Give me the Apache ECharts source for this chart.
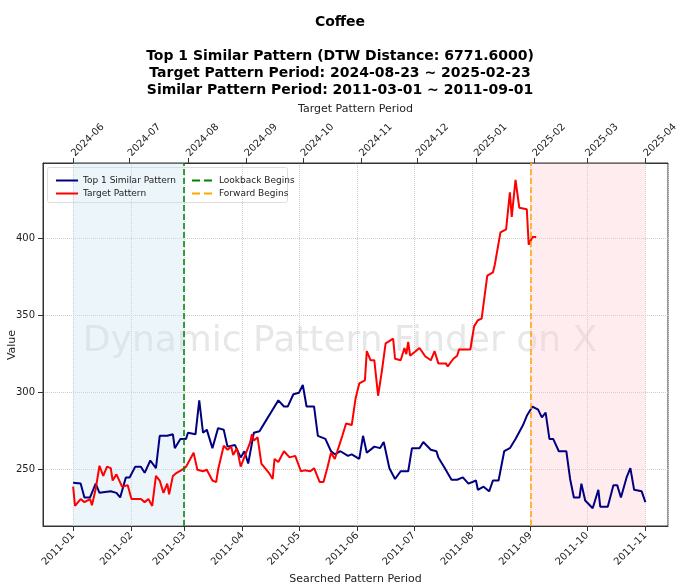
<!DOCTYPE html>
<html><head><meta charset="utf-8">
<script src="https://cdn.jsdelivr.net/npm/echarts@6/dist/echarts.min.js"></script>
<style>html,body{margin:0;padding:0;background:#fff}#c{width:680px;height:587px}</style>
</head><body><div id="c"></div>
<script>
const blueDates = ["2011-01-01","2011-01-05","2011-01-07","2011-01-10","2011-01-13","2011-01-15","2011-01-21","2011-01-24","2011-01-26","2011-01-29","2011-01-31","2011-02-03","2011-02-06","2011-02-08","2011-02-11","2011-02-14","2011-02-16","2011-02-20","2011-02-23","2011-02-24","2011-02-27","2011-03-02","2011-03-03","2011-03-07","2011-03-09","2011-03-11","2011-03-13","2011-03-16","2011-03-19","2011-03-22","2011-03-24","2011-03-28","2011-03-31","2011-04-02","2011-04-04","2011-04-07","2011-04-10","2011-04-14","2011-04-16","2011-04-20","2011-04-23","2011-04-25","2011-04-28","2011-05-01","2011-05-03","2011-05-05","2011-05-09","2011-05-11","2011-05-15","2011-05-18","2011-05-20","2011-05-23","2011-05-27","2011-05-29","2011-06-02","2011-06-04","2011-06-06","2011-06-10","2011-06-13","2011-06-15","2011-06-18","2011-06-21","2011-06-24","2011-06-28","2011-06-30","2011-07-04","2011-07-06","2011-07-10","2011-07-13","2011-07-14","2011-07-17","2011-07-21","2011-07-24","2011-07-27","2011-07-30","2011-08-03","2011-08-04","2011-08-07","2011-08-10","2011-08-12","2011-08-15","2011-08-18","2011-08-21","2011-08-24","2011-08-28","2011-08-30","2011-09-02","2011-09-05","2011-09-07","2011-09-09","2011-09-11","2011-09-13","2011-09-16","2011-09-20","2011-09-22","2011-09-24","2011-09-27","2011-09-28","2011-09-30","2011-10-04","2011-10-07","2011-10-08","2011-10-12","2011-10-15","2011-10-17","2011-10-19","2011-10-22","2011-10-24","2011-10-26","2011-10-30","2011-11-01"];
const blueValues = [241.5,241,232,232,241,235,236,235,232,245,245,252,252,248,256,251,272,272,273,264,270,270,274,273,295,274,276,264,277,276,265,266,258,262,254,274,275,283,287,295,291,291,299,300,305,291,291,272,270,262,260,262,259,260,257,272,261,265,264,268,251,244,249,249,264,264,268,263,262,258,252,243.5,243.5,245,241,243,237,239,236,243,243,262,264,270,279,285,291,289,284,287,270,270,262,262,244,232,232,241,230,225,237,226,226,240,240,232,245,251,237,236,229];
const redDates = ["2024-06-01","2024-06-02","2024-06-05","2024-06-07","2024-06-10","2024-06-11","2024-06-13","2024-06-15","2024-06-17","2024-06-19","2024-06-21","2024-06-22","2024-06-24","2024-06-27","2024-06-30","2024-07-02","2024-07-07","2024-07-09","2024-07-11","2024-07-13","2024-07-15","2024-07-17","2024-07-19","2024-07-21","2024-07-22","2024-07-24","2024-07-26","2024-07-29","2024-07-31","2024-08-01","2024-08-04","2024-08-06","2024-08-09","2024-08-11","2024-08-14","2024-08-16","2024-08-17","2024-08-20","2024-08-22","2024-08-24","2024-08-25","2024-08-27","2024-08-29","2024-08-30","2024-09-03","2024-09-04","2024-09-05","2024-09-07","2024-09-09","2024-09-13","2024-09-15","2024-09-16","2024-09-18","2024-09-21","2024-09-24","2024-09-27","2024-09-30","2024-10-02","2024-10-05","2024-10-07","2024-10-10","2024-10-12","2024-10-14","2024-10-16","2024-10-18","2024-10-19","2024-10-22","2024-10-24","2024-10-27","2024-10-29","2024-10-31","2024-11-03","2024-11-04","2024-11-06","2024-11-08","2024-11-10","2024-11-12","2024-11-14","2024-11-18","2024-11-19","2024-11-22","2024-11-24","2024-11-25","2024-11-26","2024-11-27","2024-12-02","2024-12-05","2024-12-08","2024-12-10","2024-12-12","2024-12-16","2024-12-17","2024-12-20","2024-12-22","2024-12-23","2024-12-29","2024-12-31","2025-01-02","2025-01-04","2025-01-07","2025-01-10","2025-01-11","2025-01-14","2025-01-17","2025-01-19","2025-01-20","2025-01-22","2025-01-24","2025-01-28","2025-01-29","2025-01-31","2025-02-02"];
const redValues = [239,226.5,231,229,231,227,237.6,252.6,246,252,251,243,247,239,240,231,231,229,231,226.5,246,243,235,241,234,246,248,250,252,253,261,250,249,250,243,242,250,265.6,263,265,259.5,264,252,252,267.6,273,269,271,254,248,244,257,255,262,258,259,249,249.6,249,251,242,242,251,261,257,256,272,280,279,296,306,308,327,321,321,298,314,332,335,322,321,329,325,333,324,329,323.6,321,327,319,319,317,322,324,328,328,343,347,348,376,378,383,404,406,430,414,438,420,419,396,401,401];
const lookbackDate = "2011-03-01";
const forwardDate = "2011-09-01";
const shadeBefore = ["2011-01-01","2011-03-01"];
const shadeAfter = ["2011-09-01","2011-11-01"];

const chart = echarts.init(document.getElementById('c'));
const F = 'DejaVu Sans';
const pairs = (d, v) => d.map((x, i) => [x, v[i]]);
const xCommon = {
  type: 'time', minInterval: 28*86400000, maxInterval: 31*86400000,
  axisLine: {show: true, lineStyle: {color: '#333'}},
  axisTick: {show: true, lineStyle: {color: '#333'}},
  axisLabel: {formatter: '{yyyy}-{MM}', rotate: 45, fontSize: 10, color: '#222', fontFamily: F},
  splitLine: {show: true, lineStyle: {type: 'dotted', color: '#ccc'}},
  nameLocation: 'middle', nameTextStyle: {fontSize: 11, color: '#222', fontFamily: F}
};
const legendCommon = {orient: 'vertical', top: 171, itemGap: 4, itemWidth: 22, itemHeight: 8,
  itemStyle: {opacity: 0}, textStyle: {fontSize: 9, fontFamily: F, color: '#222'}};
chart.setOption({
  animation: false,
  title: {text: 'Coffee\n\nTop 1 Similar Pattern (DTW Distance: 6771.6000)\nTarget Pattern Period: 2024-08-23 ~ 2025-02-23\nSimilar Pattern Period: 2011-03-01 ~ 2011-09-01',
    left: 'center', top: 9, textStyle: {fontSize: 14, fontWeight: 'bold', color: '#000', fontFamily: F, lineHeight: 17}},
  grid: {left: 43, right: 12, top: 163, bottom: 61, show: true, borderColor: '#333', borderWidth: 1, outerBoundsMode: 'none', containLabel: false},
  xAxis: [
    Object.assign({}, xCommon, {position: 'bottom', min: '2010-12-16', max: '2011-11-13', name: 'Searched Pattern Period', nameGap: 40}),
    Object.assign({}, xCommon, {position: 'top', min: '2024-05-16', max: '2025-04-13', name: 'Target Pattern Period', nameGap: 38, splitLine: {show: false},
      axisLabel: Object.assign({}, xCommon.axisLabel, {rotate: -45})})
  ],
  yAxis: {type: 'value', min: 213.5, max: 449,
    axisLine: {show: true, lineStyle: {color: '#333'}}, axisTick: {show: true},
    axisLabel: {fontSize: 10, color: '#222', fontFamily: F, showMinLabel: false, showMaxLabel: false},
    splitLine: {lineStyle: {type: 'dotted', color: '#ccc'}}},
  legend: [
    Object.assign({}, legendCommon, {left: 50, data: ['Top 1 Similar Pattern', 'Target Pattern']}),
    Object.assign({}, legendCommon, {left: 186, data: ['Lookback Begins', 'Forward Begins']})
  ],
  graphic: [
    {type: 'rect', left: 47, top: 167, shape: {width: 240, height: 35, r: 2}, style: {fill: 'rgba(255,255,255,0.85)', stroke: '#ddd'}, z: 0},
    {type: 'text', left: 'center', top: 324, style: {text: 'Dynamic Pattern Finder on X', fontSize: 36, fill: 'rgba(160,160,160,0.25)', fontFamily: F}, z: 0},
    {type: 'text', x: 12, y: 345, rotation: Math.PI / 2, style: {text: 'Value', fontSize: 11, fill: '#222', fontFamily: F, align: 'center', verticalAlign: 'middle'}}
  ],
  series: [
    {name: 'Top 1 Similar Pattern', type: 'line', xAxisIndex: 0, data: pairs(blueDates, blueValues), showSymbol: false, symbol: 'none',
      lineStyle: {color: '#000080', width: 2}, itemStyle: {color: '#000080'},
      markArea: {silent: true, data: [
        [{xAxis: shadeBefore[0], itemStyle: {color: 'rgba(200,226,242,0.35)'}}, {xAxis: shadeBefore[1]}],
        [{xAxis: shadeAfter[0], itemStyle: {color: 'rgba(255,200,210,0.35)'}}, {xAxis: shadeAfter[1]}]
      ]}},
    {name: 'Target Pattern', type: 'line', xAxisIndex: 1, data: pairs(redDates, redValues), showSymbol: false, symbol: 'none',
      lineStyle: {color: '#ff0000', width: 2}, itemStyle: {color: '#ff0000'}},
    {name: 'Lookback Begins', type: 'line', xAxisIndex: 0, data: [], symbol: 'none',
      lineStyle: {color: 'green', type: 'dashed', width: 1.5}, itemStyle: {color: 'green'},
      markLine: {silent: true, symbol: 'none', label: {show: false}, lineStyle: {color: 'green', type: 'dashed', width: 1.5}, data: [{xAxis: lookbackDate}]}},
    {name: 'Forward Begins', type: 'line', xAxisIndex: 0, data: [], symbol: 'none',
      lineStyle: {color: 'orange', type: 'dashed', width: 1.5}, itemStyle: {color: 'orange'},
      markLine: {silent: true, symbol: 'none', label: {show: false}, lineStyle: {color: 'orange', type: 'dashed', width: 1.5}, data: [{xAxis: forwardDate}]}}
  ]
});
</script></body></html>
